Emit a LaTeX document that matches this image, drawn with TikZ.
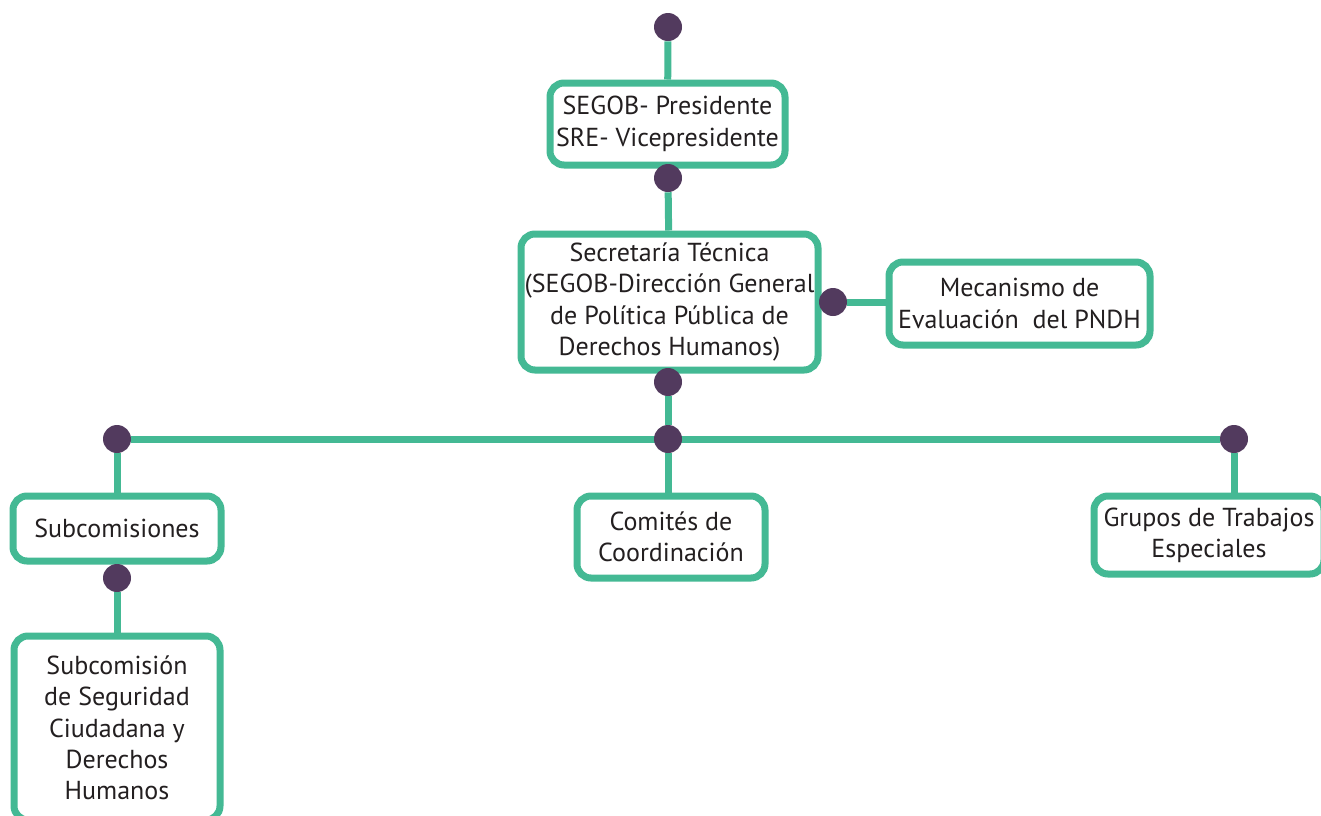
\documentclass[tikz,border=0pt]{standalone}
\usepackage{fontspec}
\setmainfont{PT Sans}
\definecolor{orggreen}{RGB}{68,185,148}
\definecolor{orgpurple}{RGB}{82,58,94}
\definecolor{orgtext}{RGB}{35,31,32}
\usetikzlibrary{backgrounds}
\def\px{0.75pt}
\tikzset{
  orgbox/.style={draw=orggreen, line width=7*\px, fill=white, rounded corners=14*\px,
    align=center, text=orgtext, font=\fontsize{19.5}{23.5}\selectfont, inner sep=0pt},
  orgdot/.style={circle, fill=orgpurple, minimum size=28*\px, inner sep=0pt},
  orglink/.style={draw=orggreen, line width=7*\px}
}

\begin{document}
\begin{tikzpicture}[x=\px, y=-\px]
  \useasboundingbox (0,0) rectangle (1321,815);

  % Boxes
  \node[orgbox, minimum width=235*\px, minimum height=82*\px] (pres) at (667.5,124) {SEGOB- Presidente\\SRE- Vicepresidente};
  \node[orgbox, minimum width=297*\px, minimum height=136*\px] (sec) at (669.5,302) {Secretaría Técnica\\(SEGOB-Dirección General\\de Política Pública de\\Derechos Humanos)};
  \node[orgbox, minimum width=261*\px, minimum height=83*\px] (mec) at (1019.5,303.5) {Mecanismo de\\Evaluación\ \ del PNDH};
  \node[orgbox, minimum width=208*\px, minimum height=65*\px] (subs) at (117,528.5) {Subcomisiones};
  \node[orgbox, minimum width=206*\px, minimum height=184*\px] (seg) at (117,728) {Subcomisión\\de Seguridad\\Ciudadana y\\Derechos\\Humanos};
  \node[orgbox, minimum width=188*\px, minimum height=82*\px] (com) at (671,537) {Comités de\\Coordinación};
  \node[orgbox, minimum width=230*\px, minimum height=78*\px] (grp) at (1209,535) {Grupos de Trabajos\\Especiales};

  % Dots
  \node[orgdot] (top) at (668,27) {};
  \node[orgdot] (d2) at (668,178) {};
  \node[orgdot] (d3) at (668,382) {};
  \node[orgdot] (mdot) at (833,302) {};
  \node[orgdot] (ldot) at (117,439) {};
  \node[orgdot] (cdot) at (668,439) {};
  \node[orgdot] (rdot) at (1234,439) {};
  \node[orgdot] (sdot) at (117,578) {};

  % Connectors
  \begin{scope}[on background layer]
    \draw[orglink] (top) -- (pres);
    \draw[orglink] (d2) -- (sec);
    \draw[orglink] (mdot) -- (mdot -| mec.west);
    \draw[orglink] (d3) -- (cdot);
    \draw[orglink] (ldot) -- (rdot);
    \draw[orglink] (ldot) -- (subs);
    \draw[orglink] (sdot) -- (seg);
    \draw[orglink] (cdot) -- (cdot |- com.north);
    \draw[orglink] (rdot) -- (rdot |- grp.north);
  \end{scope}
\end{tikzpicture}
\end{document}
